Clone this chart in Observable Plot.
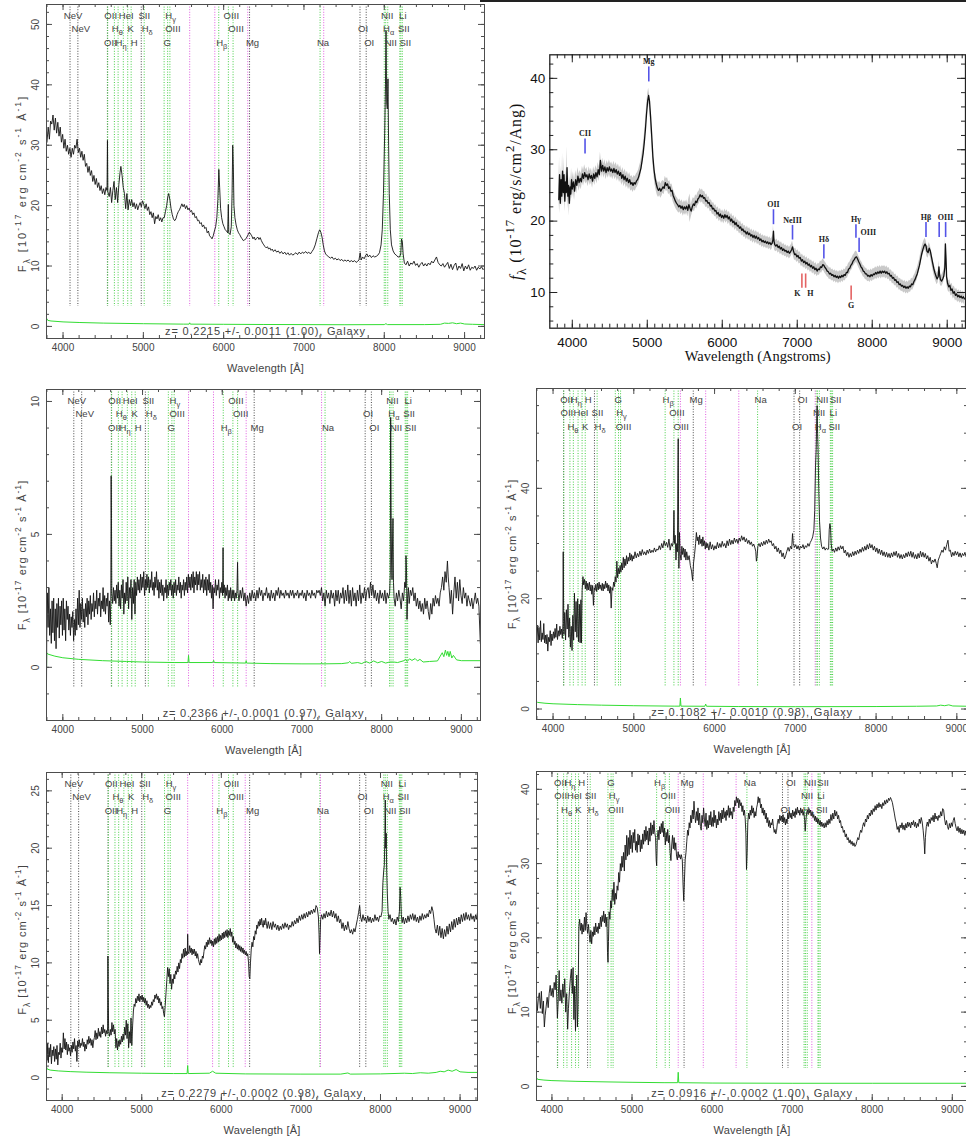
<!DOCTYPE html>
<html><head><meta charset="utf-8">
<script src="https://cdn.jsdelivr.net/npm/d3@7"></script>
<script src="https://cdn.jsdelivr.net/npm/@observablehq/plot@0.6"></script>
<style>
html,body{margin:0;padding:0;background:#fff;overflow:hidden;width:966px;height:1139px;}
#wrap{position:relative;width:966px;height:1139px;overflow:hidden;background:#fff;}
#wrap > svg{position:absolute;margin:0;overflow:visible;}
.topline{position:absolute;left:480px;top:0;width:486px;border-top:2px solid #222;}
</style></head><body><div id="wrap"><div class="topline"></div></div>
<script>
// ---------- line list (rest wavelengths, labels, kind: k=black, g=green, s=sky/magenta) ----------
const lineRest  = [3346,3426,3727,3730,3798,3836,3889,3934,3969,4072,4102,4305,4341,4364,4862,4960,5008,5176,5577,5890,5895,6300,6302,6365,6549,6564,6585,6708,6718,6733,7246];
const lineLabel = ["NeV","NeV","OII","OII","H_{θ}","H_{η}","HeI","K","H","SII","H_{δ}","G","H_{γ}","OIII","H_{β}","OIII","OIII","Mg","","","Na","","OI","OI","NII","H_{α}","NII","Li","SII","SII",""];
const lineKind  = ["k","k","k","g","g","g","g","g","g","k","g","g","g","g","g","g","g","k","s","s","g","s","k","k","g","g","g","g","g","g","s"];
const xMajorTicks = [4000,5000,6000,7000,8000,9000];

// ---------- panel 1 (z=0.2215) ----------
const spec1 = [[3800,30.5],[3815,33],[3830,31],[3845,34],[3860,33.5],[3875,35],[3890,32.5],[3905,34.5],[3920,32],[3935,33.8],[3950,31.5],[3965,33],[3980,30.5],[3995,31.8],[4010,29.5],[4025,31],[4040,29],[4055,30],[4070,28.5],[4085,29.5],[4100,28],[4115,29.5],[4130,28.5],[4145,30],[4160,29.5],[4175,31],[4190,28.8],[4205,29.5],[4220,28],[4235,29],[4250,27.5],[4265,28.5],[4280,26.5],[4295,27],[4310,25.5],[4325,26.5],[4340,25],[4355,25.8],[4370,24],[4385,25],[4400,23.5],[4415,24.5],[4430,23],[4445,23.8],[4460,22.5],[4475,23.3],[4490,22],[4505,22.8],[4520,21.8],[4535,23],[4548,22.5],[4553,30.8],[4558,22.3],[4575,21.5],[4590,23],[4605,20.5],[4620,22.5],[4635,24],[4650,21],[4665,23],[4680,20.5],[4695,23.5],[4710,25.5],[4720,26.5],[4735,25],[4750,23],[4765,22],[4780,19.5],[4795,22],[4810,19.3],[4825,21],[4840,20],[4855,21],[4870,19.8],[4885,20.5],[4900,19.5],[4915,20.3],[4930,19.3],[4945,20],[4960,20.5],[4975,19.8],[4990,20.8],[5005,20.2],[5020,19.5],[5035,20.3],[5050,19.2],[5065,19.8],[5080,18.5],[5095,19],[5110,18],[5125,18.8],[5140,17],[5155,18.2],[5170,17.8],[5185,18.5],[5200,17.5],[5215,18],[5230,17.3],[5245,18],[5260,18],[5275,19],[5290,20],[5305,21.5],[5315,22],[5330,21],[5345,19.5],[5360,18.5],[5375,17.8],[5390,17.5],[5405,17.8],[5420,18.5],[5435,19],[5450,19.3],[5465,19.8],[5480,20.3],[5495,19.8],[5510,20.2],[5525,19.5],[5540,20],[5555,19.3],[5570,19.6],[5585,19],[5600,19.2],[5615,18.5],[5630,18.8],[5645,18],[5660,18.2],[5675,17.5],[5690,17.6],[5705,17],[5720,17.2],[5735,16.5],[5750,16.8],[5765,16.2],[5780,16.4],[5795,15.5],[5810,15.8],[5825,15],[5840,14.8],[5855,14.5],[5870,15],[5885,15.8],[5900,16.5],[5915,18],[5928,21],[5940,26],[5950,23],[5962,19.5],[5975,18],[5990,17],[6005,16.5],[6020,16],[6035,15.8],[6050,15.5],[6058,20.2],[6064,15.5],[6080,15.2],[6095,16.5],[6105,22],[6113,30],[6120,27],[6128,20],[6140,18],[6155,16.8],[6170,16],[6185,15.5],[6200,15.2],[6215,14.8],[6230,14.5],[6245,14.2],[6260,14.3],[6275,14.5],[6290,14.8],[6305,15.2],[6320,15.6],[6335,15.3],[6350,15],[6365,14.5],[6380,14.8],[6395,14.3],[6410,14.6],[6425,14.8],[6440,14.4],[6455,14.7],[6470,14.2],[6485,13.8],[6500,13.5],[6515,13.2],[6530,13],[6545,13.2],[6560,12.8],[6575,13],[6590,12.6],[6605,12.8],[6620,12.4],[6640,12.7],[6660,12.3],[6680,12.5],[6700,12.1],[6720,12.4],[6740,12],[6760,12.3],[6780,11.9],[6800,12.2],[6820,11.8],[6840,12.1],[6860,11.8],[6880,12],[6900,12.2],[6920,11.9],[6940,12.3],[6960,12],[6980,12.3],[7000,12.1],[7020,12.4],[7040,12.1],[7060,12.3],[7080,12],[7100,12.4],[7120,12.8],[7140,13.5],[7160,14.5],[7180,15.5],[7195,16],[7210,15.6],[7225,14.8],[7240,13.5],[7255,12.5],[7270,12],[7290,11.7],[7310,11.5],[7330,11.3],[7350,11.5],[7370,11.1],[7390,11.3],[7410,11],[7430,11.2],[7450,10.9],[7470,11.1],[7490,10.8],[7510,11],[7530,10.8],[7550,11],[7570,10.7],[7590,10.9],[7610,10.7],[7630,10.9],[7650,10.6],[7670,10.8],[7685,11],[7700,12.2],[7712,11],[7730,11.5],[7750,11.2],[7770,11.8],[7785,12],[7800,11.5],[7820,11.8],[7840,11.4],[7860,11.7],[7880,11.5],[7900,11.6],[7920,11.8],[7940,12.2],[7960,13.5],[7975,16],[7990,22],[8005,32],[8015,40],[8022,49],[8030,37],[8038,36],[8046,41],[8054,30],[8062,22],[8075,16],[8090,13.5],[8110,12.5],[8130,12],[8150,11.8],[8170,11.5],[8190,11.5],[8205,12],[8215,14.5],[8225,14],[8235,12],[8250,10.5],[8270,10.2],[8290,10.8],[8310,10],[8330,10.5],[8350,10.3],[8370,10.8],[8390,10.1],[8410,10.4],[8430,9.8],[8450,10.3],[8470,10.6],[8490,10],[8510,10.4],[8530,10],[8550,10.5],[8570,10.2],[8590,10.8],[8610,10.5],[8630,11],[8650,11.5],[8670,10.6],[8690,10.2],[8710,10],[8730,10.4],[8750,9.8],[8770,10.2],[8790,10.6],[8810,9.6],[8830,10.3],[8850,9.4],[8870,10.1],[8890,10.5],[8910,9.3],[8930,10],[8950,9.6],[8970,10.4],[8990,9.2],[9010,10],[9030,9.5],[9050,10.2],[9070,9.3],[9090,9.8],[9110,9.6],[9130,10],[9150,9.3],[9170,9.8],[9190,9.5],[9210,9.9],[9230,9.4],[9245,9.6]];
const err1 = [[3800,1.25],[3810,1.0],[3850,0.9],[3900,0.85],[4000,0.75],[4200,0.65],[4500,0.55],[5000,0.45],[5500,0.38],[5570,0.38],[5577,0.6],[5585,0.38],[6000,0.35],[6500,0.32],[7000,0.3],[7500,0.28],[8000,0.3],[8020,0.45],[8040,0.3],[8500,0.3],[8700,0.35],[8750,0.55],[8800,0.5],[8850,0.6],[8900,0.45],[8950,0.55],[9000,0.4],[9100,0.35],[9245,0.3]];

// ---------- panel 3 (z=0.2366) ----------
const spec3 = [[3795,-0.7],[3798,1.2],[3805,2.8],[3815,1.5],[3825,3.0],[3835,1.2],[3845,2.2],[3855,0.9],[3865,2.5],[3875,1.3],[3885,2.6],[3895,1.0],[3905,2.2],[3915,0.7],[3925,2.4],[3935,1.5],[3945,2.6],[3955,1.1],[3965,2.3],[3975,1.6],[3985,2.5],[3995,1.2],[4005,2.6],[4015,1.4],[4025,2.2],[4035,1.0],[4045,2.5],[4055,1.8],[4065,2.3],[4075,1.4],[4085,2.0],[4095,1.2],[4105,1.9],[4115,1.5],[4125,2.1],[4135,1.0],[4145,1.8],[4155,1.2],[4165,2.2],[4175,1.4],[4185,2.6],[4195,1.6],[4205,2.9],[4215,1.5],[4225,2.4],[4235,1.8],[4245,2.6],[4255,1.7],[4265,2.2],[4275,1.5],[4285,2.4],[4295,1.9],[4305,2.6],[4315,1.6],[4325,2.5],[4335,2.0],[4345,2.7],[4355,1.8],[4365,2.4],[4375,2.1],[4385,2.8],[4395,1.9],[4405,2.5],[4415,2.2],[4425,2.9],[4435,2.0],[4445,2.6],[4455,2.3],[4465,2.8],[4475,1.9],[4485,2.5],[4495,2.2],[4505,3.0],[4515,2.1],[4525,2.7],[4535,2.0],[4545,2.6],[4555,2.3],[4565,2.8],[4575,1.7],[4585,2.5],[4595,1.6],[4602,2.5],[4606,7.2],[4610,5.6],[4614,2.8],[4625,2.4],[4635,3.0],[4645,2.5],[4655,2.9],[4665,2.4],[4675,3.1],[4685,2.6],[4695,3.2],[4705,2.3],[4715,2.9],[4725,2.2],[4735,3.1],[4745,2.6],[4755,3.3],[4765,2.0],[4775,2.8],[4785,2.4],[4795,3.2],[4805,2.5],[4815,3.4],[4825,2.2],[4835,3.0],[4845,2.6],[4855,3.3],[4865,1.8],[4875,3.0],[4885,2.4],[4895,3.3],[4905,2.0],[4915,3.2],[4925,2.7],[4935,3.4],[4945,2.9],[4955,3.3],[4965,2.8],[4975,3.5],[4985,2.9],[4995,3.4],[5005,3.0],[5015,3.6],[5025,2.7],[5035,3.3],[5045,2.9],[5055,3.5],[5065,3.0],[5075,3.4],[5085,2.8],[5095,3.3],[5105,3.0],[5115,3.6],[5125,2.9],[5135,3.2],[5145,2.7],[5155,3.4],[5165,3.0],[5175,3.6],[5185,2.9],[5195,3.3],[5205,2.6],[5215,3.2],[5225,2.8],[5235,3.3],[5245,2.7],[5255,3.1],[5265,2.5],[5275,3.0],[5285,2.8],[5295,3.3],[5305,2.6],[5315,3.1],[5325,2.7],[5335,3.2],[5345,2.9],[5355,3.3],[5365,2.7],[5375,3.1],[5385,2.6],[5395,3.2],[5405,2.8],[5415,3.3],[5425,2.7],[5435,3.1],[5445,2.9],[5455,3.4],[5465,2.8],[5475,3.2],[5485,2.6],[5495,3.1],[5505,2.9],[5515,3.3],[5525,2.7],[5535,3.2],[5545,2.9],[5555,3.4],[5565,2.8],[5575,3.5],[5585,3.0],[5595,3.4],[5605,2.9],[5615,3.5],[5625,3.0],[5635,3.6],[5645,2.8],[5655,3.4],[5665,3.1],[5675,3.6],[5685,2.9],[5695,3.5],[5705,3.1],[5715,3.6],[5725,2.9],[5735,3.3],[5745,3.0],[5755,3.5],[5765,2.8],[5775,3.3],[5785,2.9],[5795,3.4],[5805,2.7],[5815,3.3],[5825,2.9],[5835,3.5],[5845,2.8],[5855,3.2],[5865,2.6],[5875,3.1],[5885,2.2],[5895,3.0],[5905,2.8],[5915,3.3],[5925,2.7],[5935,3.1],[5945,2.9],[5955,3.3],[5965,2.6],[5975,3.0],[5985,2.8],[5995,3.2],[6005,2.7],[6010,4.5],[6015,2.8],[6025,3.1],[6035,2.6],[6045,3.0],[6055,2.7],[6065,3.1],[6075,2.5],[6085,2.9],[6095,2.6],[6105,3.0],[6115,2.5],[6125,2.9],[6135,2.6],[6145,2.9],[6155,2.5],[6165,2.8],[6175,2.6],[6185,2.9],[6192,3.95],[6198,2.8],[6210,2.5],[6225,2.9],[6240,2.6],[6255,3.0],[6270,2.5],[6285,2.8],[6300,2.3],[6315,2.7],[6330,2.4],[6345,2.8],[6360,2.5],[6375,2.9],[6390,2.6],[6405,2.8],[6420,2.5],[6435,2.9],[6450,2.6],[6465,3.0],[6480,2.7],[6495,2.9],[6510,2.5],[6525,2.8],[6540,2.7],[6555,3.0],[6570,2.6],[6585,2.8],[6600,2.5],[6615,2.9],[6630,2.6],[6645,2.8],[6660,2.5],[6675,2.9],[6690,2.7],[6705,3.0],[6720,2.6],[6735,2.9],[6750,2.7],[6765,2.8],[6780,2.6],[6795,2.9],[6810,2.7],[6825,2.8],[6840,2.6],[6855,2.9],[6870,2.7],[6885,2.9],[6900,2.6],[6915,2.8],[6930,2.7],[6945,2.9],[6960,2.6],[6975,2.8],[6990,2.7],[7005,2.9],[7020,2.6],[7035,2.8],[7050,2.5],[7065,2.9],[7080,2.7],[7095,2.8],[7110,2.6],[7125,2.9],[7140,2.7],[7155,2.8],[7170,2.6],[7185,2.9],[7200,2.8],[7215,2.9],[7230,2.7],[7245,3.0],[7260,2.5],[7275,2.8],[7290,2.3],[7305,2.9],[7320,2.6],[7335,2.8],[7350,2.4],[7365,2.9],[7380,2.6],[7395,2.8],[7410,2.3],[7425,2.9],[7440,2.5],[7455,2.9],[7470,2.4],[7485,2.8],[7500,2.6],[7515,3.0],[7530,2.4],[7545,2.9],[7560,2.5],[7575,3.1],[7590,2.4],[7605,2.9],[7620,2.3],[7635,3.0],[7650,2.5],[7665,2.8],[7680,2.3],[7695,2.9],[7710,2.5],[7725,3.1],[7740,2.4],[7755,2.8],[7770,2.6],[7785,3.0],[7800,2.5],[7815,2.9],[7830,3.0],[7845,2.6],[7860,3.2],[7875,2.7],[7890,3.1],[7905,2.6],[7920,2.9],[7935,2.5],[7950,2.8],[7965,2.4],[7980,2.9],[7995,2.6],[8010,2.8],[8025,2.5],[8040,2.9],[8055,2.4],[8070,2.8],[8085,2.6],[8100,2.8],[8108,3.5],[8113,9.4],[8118,6.0],[8124,4.0],[8130,3.3],[8136,4.6],[8142,5.6],[8148,3.2],[8156,2.6],[8170,2.3],[8185,2.8],[8200,2.5],[8215,2.9],[8230,2.6],[8245,2.2],[8260,2.8],[8275,2.5],[8290,3.2],[8300,3.0],[8305,4.2],[8312,3.6],[8318,1.8],[8325,2.6],[8335,3.0],[8345,2.4],[8360,2.9],[8375,2.7],[8390,3.0],[8405,2.5],[8420,2.8],[8435,2.3],[8450,2.6],[8465,2.2],[8480,2.5],[8495,2.1],[8510,2.4],[8525,2.0],[8540,2.6],[8555,2.2],[8570,2.5],[8585,2.1],[8600,1.8],[8615,2.4],[8630,2.0],[8645,2.6],[8660,2.3],[8675,2.7],[8690,2.4],[8705,2.6],[8720,2.3],[8735,2.8],[8750,3.0],[8765,3.4],[8780,2.9],[8795,3.6],[8810,3.2],[8825,4.0],[8835,3.4],[8845,3.0],[8860,2.4],[8875,2.9],[8890,2.0],[8905,2.8],[8920,3.4],[8935,2.6],[8950,3.2],[8965,2.5],[8980,3.3],[8995,2.7],[9010,2.4],[9025,3.0],[9040,2.6],[9055,2.8],[9070,2.3],[9085,2.7],[9100,2.5],[9115,2.3],[9130,2.6],[9145,2.2],[9160,2.5],[9175,2.8],[9190,2.4],[9205,2.6],[9220,2.3],[9238,0.9]];
const err3 = [[3796,0.0],[3798,0.55],[3810,0.5],[3900,0.42],[4000,0.36],[4200,0.3],[4500,0.25],[4800,0.22],[5000,0.2],[5400,0.18],[5570,0.18],[5577,0.45],[5584,0.18],[5880,0.18],[5892,0.26],[5900,0.18],[6295,0.16],[6300,0.25],[6305,0.16],[6600,0.14],[7000,0.13],[7240,0.13],[7246,0.18],[7252,0.13],[7500,0.14],[7580,0.17],[7600,0.22],[7620,0.15],[7700,0.18],[7750,0.14],[7800,0.22],[7850,0.16],[7900,0.24],[7950,0.17],[8000,0.22],[8050,0.16],[8100,0.2],[8150,0.2],[8200,0.18],[8280,0.25],[8300,0.3],[8320,0.22],[8350,0.32],[8380,0.26],[8420,0.33],[8450,0.24],[8480,0.3],[8520,0.2],[8600,0.22],[8700,0.24],[8760,0.55],[8780,0.4],[8800,0.65],[8815,0.45],[8830,0.6],[8845,0.4],[8860,0.6],[8880,0.35],[8900,0.45],[8940,0.28],[9000,0.25],[9238,0.25]];

// ---------- panel 5 (z=0.2279) ----------
const spec5 = [[3803,2.6],[3810,1.5],[3818,3.0],[3826,1.3],[3835,2.6],[3845,1.8],[3855,2.9],[3865,1.2],[3875,2.4],[3885,1.9],[3895,2.7],[3905,1.4],[3915,2.5],[3925,1.6],[3935,2.8],[3945,1.1],[3955,2.2],[3965,2.0],[3975,3.0],[3985,1.7],[3995,2.6],[4005,2.2],[4015,3.9],[4025,2.5],[4035,3.4],[4045,2.4],[4055,3.1],[4065,2.0],[4075,2.9],[4085,2.3],[4095,2.6],[4105,1.9],[4115,2.8],[4125,2.2],[4135,3.1],[4145,2.5],[4155,3.4],[4165,2.3],[4175,2.8],[4185,1.4],[4195,3.2],[4205,2.7],[4215,3.3],[4225,2.6],[4235,3.0],[4245,2.8],[4255,3.4],[4265,2.7],[4275,3.1],[4285,2.3],[4295,2.9],[4305,2.5],[4315,3.3],[4325,2.9],[4335,3.6],[4345,3.0],[4355,3.4],[4365,2.8],[4375,3.3],[4385,2.6],[4395,3.2],[4405,3.5],[4415,4.1],[4425,3.3],[4435,3.9],[4445,3.4],[4455,4.3],[4465,3.6],[4475,4.0],[4485,3.5],[4495,4.4],[4505,3.8],[4515,4.6],[4525,3.9],[4535,4.2],[4545,3.6],[4555,4.1],[4565,3.8],[4571,4.4],[4575,10.6],[4579,7.0],[4584,4.0],[4595,3.6],[4605,4.2],[4615,3.7],[4625,4.8],[4635,4.0],[4645,4.6],[4655,3.8],[4665,4.2],[4675,2.6],[4685,3.4],[4695,2.4],[4705,3.2],[4715,2.7],[4725,3.3],[4735,2.9],[4745,3.6],[4755,3.1],[4765,3.8],[4775,3.3],[4785,4.4],[4795,3.7],[4805,5.0],[4815,3.4],[4825,4.7],[4835,2.6],[4845,4.0],[4855,3.0],[4865,5.2],[4875,2.8],[4885,4.5],[4895,5.8],[4905,6.4],[4915,6.2],[4925,6.9],[4935,6.5],[4945,7.1],[4955,6.7],[4965,7.3],[4975,6.6],[4985,7.1],[4995,6.8],[5005,7.2],[5015,6.6],[5025,7.0],[5035,6.5],[5045,6.9],[5055,6.3],[5065,6.7],[5075,6.1],[5085,6.4],[5095,6.0],[5105,6.3],[5115,6.1],[5125,6.6],[5135,6.3],[5145,6.8],[5155,6.6],[5165,7.2],[5175,6.9],[5185,7.3],[5195,6.8],[5205,7.1],[5215,6.5],[5225,6.9],[5235,6.3],[5245,6.6],[5255,6.0],[5265,6.2],[5275,5.6],[5285,5.3],[5295,6.3],[5305,7.4],[5315,8.5],[5325,9.6],[5335,8.8],[5345,9.5],[5355,8.2],[5365,9.0],[5375,7.7],[5385,8.6],[5395,8.2],[5405,9.0],[5415,8.6],[5425,9.3],[5435,9.0],[5445,9.7],[5455,9.2],[5465,10.0],[5475,9.5],[5485,10.3],[5495,10.0],[5505,10.8],[5515,10.4],[5525,11.2],[5535,10.5],[5545,11.3],[5555,10.6],[5565,11.0],[5572,10.7],[5577,12.5],[5582,11.0],[5592,10.8],[5602,11.5],[5612,10.9],[5622,11.3],[5632,10.7],[5642,11.2],[5652,10.8],[5662,11.2],[5672,10.6],[5682,11.0],[5692,10.4],[5702,10.8],[5712,10.3],[5722,10.0],[5732,9.8],[5742,10.3],[5752,10.0],[5762,10.6],[5772,10.4],[5782,11.0],[5792,11.5],[5802,11.2],[5812,11.8],[5822,11.4],[5832,12.0],[5842,11.6],[5852,12.2],[5862,11.7],[5872,12.0],[5882,11.5],[5892,11.9],[5902,11.4],[5912,12.1],[5922,11.6],[5932,12.2],[5942,11.7],[5952,12.3],[5962,11.8],[5972,12.5],[5982,11.9],[5992,12.4],[6002,12.0],[6012,12.6],[6022,12.1],[6032,12.7],[6042,12.2],[6052,12.8],[6062,12.3],[6072,12.9],[6082,12.2],[6092,12.8],[6102,12.4],[6112,13.0],[6122,12.3],[6132,12.7],[6142,11.8],[6152,12.3],[6162,11.6],[6172,11.9],[6182,11.3],[6192,11.7],[6202,11.2],[6212,11.6],[6222,11.1],[6232,11.5],[6242,11.0],[6252,11.4],[6262,10.9],[6272,11.3],[6282,10.8],[6292,11.1],[6302,10.7],[6312,11.0],[6322,10.6],[6332,10.8],[6342,10.0],[6350,8.8],[6358,8.6],[6366,10.0],[6376,11.2],[6386,11.8],[6396,11.4],[6406,12.3],[6416,12.0],[6426,12.8],[6436,12.5],[6446,13.3],[6456,13.0],[6466,13.6],[6476,13.2],[6486,13.8],[6496,13.3],[6506,13.9],[6516,13.4],[6526,13.1],[6536,13.7],[6546,13.3],[6556,13.9],[6566,13.4],[6576,13.0],[6590,13.6],[6605,13.0],[6620,13.5],[6635,12.9],[6650,13.6],[6665,13.1],[6680,13.4],[6695,12.9],[6710,13.3],[6725,12.8],[6740,13.2],[6755,12.9],[6770,13.4],[6785,13.0],[6800,13.5],[6815,13.1],[6830,13.4],[6845,12.9],[6860,13.3],[6875,13.1],[6890,13.6],[6905,13.2],[6920,13.7],[6935,13.4],[6950,13.9],[6965,13.5],[6980,14.1],[6995,13.7],[7010,14.2],[7025,13.8],[7040,14.3],[7055,13.9],[7070,14.4],[7085,14.0],[7100,14.5],[7115,14.2],[7130,14.6],[7145,14.3],[7160,14.7],[7175,14.4],[7190,15.0],[7205,14.8],[7220,14.0],[7228,12.5],[7234,10.8],[7240,12.0],[7248,13.8],[7260,14.2],[7275,13.8],[7290,14.3],[7305,13.9],[7320,14.5],[7335,14.0],[7350,14.4],[7365,14.1],[7380,14.6],[7395,14.0],[7410,14.5],[7425,13.9],[7440,14.3],[7455,13.6],[7470,14.1],[7485,13.5],[7500,13.8],[7515,13.0],[7530,13.5],[7545,12.8],[7560,13.3],[7575,12.9],[7590,13.6],[7605,13.0],[7620,12.6],[7635,12.9],[7650,12.5],[7665,13.0],[7680,12.7],[7695,13.3],[7710,13.8],[7725,14.4],[7738,15.0],[7750,14.0],[7765,13.6],[7780,14.2],[7795,13.7],[7810,14.0],[7825,13.5],[7840,14.1],[7855,13.6],[7870,14.0],[7885,13.5],[7900,13.9],[7915,13.6],[7930,14.2],[7945,13.7],[7960,14.0],[7975,13.6],[7990,14.1],[8005,14.0],[8020,14.5],[8030,17.0],[8040,18.0],[8048,18.5],[8055,21],[8060,24.2],[8066,20],[8072,21.3],[8078,18],[8086,16],[8095,14.5],[8105,13.8],[8120,14.2],[8135,13.6],[8150,13.9],[8165,13.4],[8180,13.8],[8195,13.3],[8210,14.0],[8225,13.6],[8238,14.5],[8246,16.6],[8254,15.8],[8262,14.2],[8272,13.5],[8285,14.0],[8300,13.4],[8315,13.9],[8330,13.5],[8345,14.1],[8360,13.6],[8375,14.2],[8390,13.8],[8405,14.3],[8420,13.7],[8435,14.2],[8450,13.6],[8465,14.0],[8480,13.5],[8495,14.1],[8510,13.7],[8525,14.3],[8540,13.8],[8555,14.2],[8570,13.9],[8585,14.3],[8600,14.0],[8615,14.6],[8630,14.3],[8645,14.9],[8660,14.5],[8672,13.8],[8685,13.0],[8700,12.6],[8715,13.3],[8730,12.4],[8745,13.2],[8760,12.2],[8775,13.0],[8790,12.1],[8805,12.9],[8820,12.3],[8835,13.2],[8850,12.5],[8865,13.4],[8880,12.7],[8895,13.6],[8910,12.9],[8925,13.8],[8940,13.1],[8955,13.9],[8970,13.3],[8985,14.0],[9000,13.4],[9015,14.2],[9030,13.6],[9045,14.3],[9060,13.7],[9075,14.4],[9090,13.8],[9105,14.2],[9120,13.7],[9135,14.3],[9150,13.8],[9165,14.1],[9180,13.6],[9195,14.2],[9205,13.8],[9219,14.4]];
const err5 = [[3803,0.95],[3810,0.75],[3850,0.65],[3950,0.58],[4100,0.52],[4300,0.47],[4600,0.42],[5000,0.38],[5400,0.35],[5570,0.35],[5577,1.05],[5584,0.35],[5850,0.38],[5890,0.55],[5930,0.38],[6300,0.32],[7000,0.3],[7500,0.3],[7590,0.4],[7620,0.3],[8000,0.32],[8300,0.38],[8400,0.35],[8500,0.42],[8600,0.38],[8700,0.45],[8750,0.55],[8800,0.5],[8850,0.65],[8900,0.55],[8950,0.7],[9000,0.5],[9100,0.45],[9219,0.45]];

// ---------- panel 4 (z=0.1082) ----------
const spec4 = [[3795,13.2],[3805,15.2],[3815,12.0],[3825,14.8],[3835,12.5],[3845,16.0],[3855,12.2],[3865,13.8],[3875,12.6],[3885,15.5],[3895,12.0],[3905,13.4],[3915,11.8],[3925,13.5],[3935,10.5],[3945,13.0],[3955,12.2],[3965,14.2],[3975,11.5],[3985,13.6],[3995,12.4],[4005,14.0],[4015,12.8],[4025,14.6],[4035,13.0],[4045,15.4],[4055,12.6],[4065,14.2],[4075,13.2],[4085,15.0],[4095,13.5],[4105,14.5],[4115,12.8],[4122,15.5],[4126,28.5],[4130,20],[4135,13.5],[4145,17.5],[4155,12.5],[4165,18.0],[4175,14.5],[4185,19.0],[4195,13.0],[4205,16.5],[4215,11.2],[4225,15.0],[4235,10.6],[4245,17.0],[4255,12.5],[4265,21.0],[4275,14.0],[4285,19.5],[4295,13.0],[4305,20.0],[4315,12.2],[4325,19.0],[4335,12.0],[4345,19.8],[4352,12.0],[4360,21.5],[4370,24.0],[4380,22.5],[4390,23.5],[4400,21.8],[4410,23.2],[4420,21.5],[4430,22.8],[4440,21.6],[4450,23.0],[4460,21.4],[4470,22.5],[4480,20.8],[4490,22.4],[4500,18.8],[4510,22.0],[4520,21.5],[4530,22.6],[4540,21.3],[4550,22.8],[4560,21.6],[4570,23.0],[4580,21.8],[4590,22.5],[4600,21.5],[4610,22.8],[4620,21.4],[4630,22.6],[4640,21.8],[4650,23.2],[4660,22.0],[4670,22.8],[4680,21.4],[4690,22.5],[4700,21.0],[4710,22.2],[4720,18.3],[4730,22.0],[4740,21.5],[4750,23.0],[4760,22.2],[4770,24.0],[4780,23.0],[4790,26.8],[4800,23.8],[4810,25.5],[4820,24.5],[4830,26.0],[4840,24.8],[4850,26.5],[4860,25.2],[4870,27.5],[4880,25.6],[4890,27.2],[4900,26.0],[4910,27.8],[4920,26.3],[4930,27.5],[4940,26.8],[4950,28.3],[4960,27.0],[4970,28.0],[4980,26.8],[4990,27.8],[5000,27.2],[5015,28.5],[5030,27.4],[5045,28.2],[5060,27.6],[5075,28.6],[5090,27.8],[5105,28.9],[5120,28.0],[5135,28.5],[5150,27.9],[5165,28.8],[5180,28.2],[5195,29.0],[5210,28.3],[5225,28.8],[5240,28.4],[5255,29.2],[5270,28.5],[5285,29.0],[5300,28.8],[5315,29.6],[5330,28.9],[5345,30.0],[5360,29.2],[5375,30.5],[5390,29.6],[5405,30.2],[5420,29.3],[5435,30.8],[5450,28.8],[5465,30.0],[5478,29.5],[5490,30.5],[5497,36.0],[5503,30.0],[5512,31.5],[5522,27.0],[5532,30.0],[5540,28.5],[5546,43],[5550,49],[5554,35],[5558,25.5],[5565,32.0],[5575,28],[5585,27.0],[5595,29.5],[5605,28.0],[5615,29.2],[5625,27.5],[5635,29.0],[5645,27.0],[5655,28.5],[5670,27.0],[5685,27.8],[5700,26.0],[5715,25.0],[5728,23.3],[5740,26.5],[5752,28.0],[5765,30.0],[5775,32.0],[5785,30.5],[5795,31.2],[5805,29.8],[5815,31.5],[5825,30.0],[5835,30.8],[5845,29.5],[5855,31.2],[5865,29.6],[5875,30.5],[5885,29.0],[5895,30.2],[5905,29.2],[5915,30.0],[5930,28.8],[5945,30.3],[5960,29.0],[5975,29.8],[5990,28.8],[6005,29.6],[6020,29.0],[6035,30.2],[6050,29.2],[6065,30.0],[6080,29.3],[6095,30.4],[6110,29.5],[6125,30.0],[6140,29.2],[6155,30.5],[6170,29.6],[6185,30.8],[6200,29.8],[6215,30.6],[6230,29.9],[6245,31.0],[6260,30.2],[6275,30.8],[6290,30.0],[6305,31.0],[6320,30.4],[6335,31.4],[6350,30.6],[6365,31.2],[6380,30.3],[6395,30.9],[6410,30.0],[6425,30.6],[6440,29.8],[6455,30.3],[6470,29.5],[6485,29.9],[6500,29.2],[6510,28.6],[6518,26.8],[6526,27.5],[6536,29.5],[6550,30.0],[6565,29.4],[6580,30.2],[6595,29.6],[6610,30.4],[6625,29.8],[6640,30.6],[6655,30.0],[6670,30.8],[6685,30.2],[6700,30.5],[6715,29.6],[6730,30.0],[6745,29.0],[6760,29.5],[6775,28.5],[6790,29.2],[6805,28.2],[6820,28.8],[6835,27.6],[6850,28.3],[6865,27.2],[6880,27.8],[6895,28.6],[6910,29.3],[6925,28.6],[6940,29.5],[6955,29.0],[6965,31.8],[6975,30.0],[6990,29.3],[7005,29.8],[7020,29.0],[7035,29.6],[7050,28.8],[7065,29.5],[7080,29.2],[7095,29.8],[7110,29.0],[7125,29.6],[7140,29.3],[7155,30.0],[7170,29.5],[7185,30.2],[7200,30.6],[7215,31.2],[7230,32.5],[7240,36],[7250,44],[7258,47],[7264,52],[7270,55],[7276,50],[7282,47],[7290,40],[7300,34],[7312,31],[7325,29.5],[7340,29.0],[7355,29.4],[7370,28.8],[7385,29.2],[7400,28.9],[7412,29.0],[7420,32.5],[7428,33.6],[7436,33.0],[7444,30.0],[7455,28.6],[7470,29.0],[7485,28.4],[7500,29.2],[7515,28.6],[7530,29.4],[7545,28.8],[7560,29.6],[7575,29.0],[7590,29.5],[7605,28.3],[7620,28.8],[7635,27.8],[7650,28.4],[7665,27.5],[7680,28.2],[7695,27.6],[7710,28.5],[7725,27.8],[7740,28.6],[7755,28.0],[7770,28.8],[7785,28.2],[7800,29.0],[7815,28.4],[7830,29.3],[7845,28.6],[7860,29.5],[7875,28.8],[7890,29.8],[7905,29.0],[7920,30.0],[7935,29.2],[7950,29.8],[7965,28.8],[7980,29.5],[7995,28.5],[8010,29.2],[8025,28.2],[8040,29.0],[8055,28.0],[8070,28.8],[8085,27.8],[8100,28.5],[8115,27.6],[8130,28.4],[8145,27.5],[8160,28.2],[8175,27.4],[8190,28.3],[8205,27.6],[8220,28.5],[8235,27.8],[8250,28.6],[8265,27.5],[8280,28.2],[8295,27.3],[8310,28.0],[8325,27.2],[8340,28.0],[8355,27.4],[8370,28.3],[8385,27.6],[8400,28.5],[8415,27.7],[8430,28.6],[8445,27.5],[8460,28.4],[8475,27.3],[8490,28.0],[8505,27.2],[8520,28.2],[8535,27.4],[8550,28.6],[8565,27.6],[8580,28.4],[8595,27.5],[8610,28.2],[8625,27.2],[8640,27.8],[8655,26.8],[8670,27.5],[8685,26.3],[8700,27.0],[8715,26.6],[8730,27.2],[8745,26.4],[8757,25.6],[8770,27.0],[8785,27.6],[8800,28.2],[8815,28.8],[8830,28.4],[8845,29.4],[8860,28.8],[8875,29.8],[8890,30.6],[8905,28.6],[8920,28.8],[8935,27.6],[8950,28.4],[8965,27.8],[8980,28.6],[8995,27.9],[9010,28.5],[9025,27.6],[9040,28.3],[9055,27.5],[9070,28.2],[9085,27.8],[9100,28.4],[9115,27.6],[9132,28.0]];
const err4 = [[3795,1.3],[3810,1.2],[3900,1.05],[4000,0.95],[4300,0.8],[4600,0.7],[5000,0.6],[5500,0.52],[5570,0.52],[5577,2.0],[5584,0.52],[5880,0.5],[5890,0.9],[5900,0.5],[6300,0.45],[7000,0.42],[8000,0.45],[8500,0.5],[8750,0.55],[8800,0.7],[8850,0.6],[8900,0.75],[8950,0.55],[9132,0.5]];

// ---------- panel 6 (z=0.0916) ----------
const spec6 = [[3807,12.0],[3818,10.2],[3830,11.8],[3842,12.6],[3855,10.5],[3868,12.8],[3880,9.8],[3893,11.5],[3905,8.0],[3915,9.5],[3928,10.8],[3940,12.0],[3953,10.6],[3965,12.5],[3978,13.6],[3990,12.2],[4003,13.2],[4015,12.0],[4028,14.0],[4040,13.0],[4052,15.0],[4060,12.0],[4068,9.2],[4078,11.5],[4090,15.6],[4100,11.5],[4112,13.0],[4124,11.2],[4136,13.8],[4148,12.0],[4160,14.5],[4172,10.0],[4184,12.5],[4196,7.7],[4206,10.5],[4218,12.8],[4230,14.5],[4242,15.8],[4254,12.5],[4264,16.0],[4274,9.0],[4284,13.5],[4294,7.5],[4302,12.0],[4310,15.0],[4318,8.0],[4326,11.0],[4336,21.5],[4346,22.5],[4356,21.0],[4366,22.0],[4376,20.5],[4386,21.8],[4396,20.8],[4406,22.8],[4416,21.0],[4426,23.4],[4436,21.5],[4446,20.6],[4456,21.8],[4466,20.5],[4476,19.4],[4486,21.0],[4496,19.2],[4506,20.8],[4516,20.2],[4526,21.5],[4536,20.4],[4546,22.0],[4556,20.8],[4566,21.5],[4576,20.6],[4586,22.0],[4596,21.2],[4606,22.8],[4616,21.5],[4626,23.0],[4636,22.2],[4646,23.6],[4656,22.0],[4666,23.2],[4676,21.5],[4686,22.8],[4694,18.0],[4700,16.7],[4706,19.5],[4714,23.5],[4724,22.5],[4734,25.0],[4744,24.0],[4754,26.5],[4764,25.0],[4774,27.5],[4784,24.5],[4794,26.0],[4804,25.2],[4814,27.0],[4824,26.4],[4834,28.8],[4844,27.5],[4854,30.0],[4864,29.0],[4874,31.0],[4884,29.5],[4894,31.5],[4904,29.0],[4914,32.5],[4924,30.5],[4934,33.8],[4944,31.0],[4954,33.5],[4964,31.2],[4974,34.5],[4984,32.0],[4994,33.8],[5004,31.5],[5014,34.2],[5024,32.8],[5034,34.6],[5044,31.8],[5054,33.0],[5064,31.5],[5074,34.0],[5084,32.5],[5094,33.8],[5104,31.6],[5114,33.2],[5124,32.0],[5134,34.0],[5144,32.6],[5154,34.5],[5164,33.0],[5174,35.0],[5184,33.2],[5194,34.4],[5204,32.5],[5214,34.8],[5224,33.0],[5234,35.5],[5244,33.8],[5254,35.2],[5264,34.0],[5274,35.8],[5284,34.2],[5294,33.5],[5302,30.5],[5308,29.7],[5316,33.5],[5326,34.5],[5336,33.2],[5346,35.0],[5356,34.0],[5366,35.4],[5376,34.2],[5386,35.7],[5396,33.6],[5406,34.8],[5416,32.5],[5426,34.2],[5436,33.0],[5446,34.6],[5456,32.8],[5466,33.8],[5476,31.5],[5486,30.4],[5496,32.5],[5506,33.8],[5516,32.0],[5526,33.5],[5536,31.8],[5546,32.8],[5556,31.0],[5566,30.5],[5576,31.6],[5586,30.8],[5596,31.2],[5606,30.6],[5616,31.2],[5628,30.5],[5638,27.0],[5646,25.0],[5654,27.5],[5664,30.5],[5674,31.5],[5684,33.0],[5694,34.5],[5704,33.8],[5714,35.5],[5724,34.8],[5734,36.5],[5744,35.5],[5754,37.2],[5764,36.0],[5774,38.4],[5784,36.5],[5794,35.5],[5804,37.0],[5814,35.8],[5824,37.5],[5834,35.2],[5844,36.8],[5854,35.0],[5864,34.5],[5874,36.5],[5884,35.5],[5894,37.5],[5904,36.0],[5914,35.0],[5924,36.8],[5934,34.6],[5944,35.8],[5954,34.8],[5964,36.5],[5974,35.2],[5984,37.0],[5994,35.0],[6004,36.2],[6014,35.0],[6024,37.2],[6034,35.5],[6044,36.5],[6054,34.8],[6064,36.0],[6074,35.2],[6084,37.0],[6094,35.8],[6104,36.8],[6114,35.5],[6124,37.2],[6134,36.0],[6144,37.5],[6154,36.2],[6164,37.0],[6174,35.8],[6184,37.2],[6194,36.5],[6204,37.8],[6214,36.2],[6224,37.5],[6234,36.5],[6244,37.0],[6254,36.0],[6264,37.6],[6274,37.0],[6284,38.5],[6294,37.8],[6304,39.0],[6314,38.2],[6324,38.8],[6334,37.5],[6344,38.6],[6354,37.8],[6364,38.2],[6374,37.0],[6384,37.8],[6394,36.5],[6404,37.2],[6414,36.0],[6422,34.0],[6430,29.2],[6438,31.5],[6446,35.5],[6456,36.8],[6466,36.0],[6476,37.2],[6486,36.5],[6496,37.8],[6506,36.8],[6516,37.5],[6526,36.2],[6536,37.0],[6546,36.4],[6556,37.5],[6566,38.0],[6576,39.0],[6586,38.2],[6596,38.8],[6606,37.5],[6616,38.0],[6626,36.8],[6636,37.5],[6646,36.5],[6656,37.2],[6666,36.0],[6676,36.8],[6686,35.5],[6696,36.2],[6706,35.0],[6716,35.8],[6726,34.8],[6736,35.5],[6746,35.2],[6756,36.0],[6766,35.0],[6776,34.2],[6786,34.6],[6796,34.0],[6806,34.5],[6816,35.5],[6826,36.0],[6836,35.4],[6846,36.5],[6856,35.8],[6866,36.4],[6876,35.6],[6886,36.6],[6896,35.5],[6906,36.2],[6916,35.2],[6926,36.0],[6936,35.4],[6946,36.8],[6956,36.0],[6966,37.0],[6976,36.2],[6986,36.8],[6996,36.0],[7006,37.2],[7016,36.4],[7026,37.0],[7036,36.2],[7046,37.4],[7056,36.6],[7066,37.6],[7076,36.8],[7086,37.2],[7096,36.5],[7106,37.5],[7116,36.8],[7126,37.3],[7136,36.5],[7146,37.0],[7156,35.8],[7163,34.4],[7170,35.5],[7180,36.8],[7190,37.2],[7200,36.6],[7210,37.4],[7220,36.8],[7230,37.2],[7240,36.4],[7250,37.0],[7260,36.2],[7270,36.6],[7280,35.8],[7290,36.4],[7300,35.6],[7310,36.2],[7320,35.4],[7330,36.0],[7340,35.2],[7350,35.8],[7360,35.0],[7370,35.6],[7380,35.0],[7390,35.4],[7400,34.8],[7412,35.5],[7424,34.9],[7436,35.8],[7448,35.2],[7460,36.0],[7472,35.4],[7484,36.6],[7496,35.8],[7508,36.8],[7520,36.0],[7532,37.2],[7544,36.4],[7556,37.0],[7568,36.0],[7580,36.5],[7592,35.5],[7604,35.8],[7616,34.8],[7628,35.0],[7640,34.2],[7652,34.5],[7664,33.6],[7676,34.0],[7688,33.2],[7700,33.5],[7712,32.8],[7724,33.2],[7736,32.6],[7748,33.0],[7760,32.4],[7772,32.8],[7784,32.3],[7796,32.5],[7808,33.0],[7820,33.5],[7832,33.2],[7844,34.0],[7856,34.5],[7868,34.2],[7880,35.0],[7892,35.5],[7904,35.0],[7916,36.0],[7928,35.6],[7940,36.5],[7952,36.0],[7964,36.8],[7976,36.4],[7988,37.2],[8000,36.6],[8012,37.4],[8024,37.0],[8036,37.8],[8048,37.2],[8060,38.0],[8072,37.5],[8084,38.2],[8096,37.6],[8108,38.0],[8120,37.4],[8132,38.2],[8144,37.8],[8156,38.5],[8168,38.0],[8180,38.6],[8192,38.2],[8204,38.8],[8216,38.5],[8228,38.9],[8240,38.6],[8252,38.2],[8264,37.5],[8276,36.8],[8288,36.0],[8300,35.5],[8312,34.6],[8324,35.0],[8336,34.2],[8348,35.2],[8360,34.8],[8372,35.5],[8384,34.6],[8396,35.2],[8408,34.5],[8420,35.4],[8432,34.8],[8444,35.6],[8456,35.0],[8468,35.5],[8480,34.8],[8492,35.6],[8504,35.2],[8516,35.8],[8528,35.0],[8540,35.6],[8552,34.8],[8564,35.4],[8576,35.0],[8588,36.0],[8600,35.4],[8612,36.2],[8624,35.6],[8636,34.5],[8648,33.0],[8656,31.3],[8664,33.5],[8676,35.0],[8688,35.6],[8700,35.0],[8712,36.0],[8724,35.4],[8736,36.2],[8748,35.8],[8760,36.5],[8772,35.6],[8784,36.8],[8796,36.0],[8808,36.4],[8820,35.8],[8832,36.5],[8844,36.2],[8856,37.0],[8868,36.4],[8880,37.4],[8892,37.2],[8904,36.0],[8916,35.2],[8928,35.8],[8940,35.0],[8952,34.6],[8964,35.4],[8976,34.8],[8988,35.5],[9000,35.0],[9012,35.8],[9024,36.2],[9036,35.4],[9048,34.8],[9060,34.4],[9072,35.0],[9084,34.2],[9096,34.8],[9108,34.0],[9120,34.6],[9132,34.0],[9144,34.5],[9156,33.8],[9168,34.4],[9180,34.0],[9192,34.5]];
const err6 = [[3807,1.2],[3820,0.95],[3900,0.85],[4000,0.78],[4300,0.68],[4700,0.6],[5000,0.55],[5400,0.5],[5570,0.5],[5577,1.9],[5584,0.5],[6000,0.45],[7000,0.42],[8000,0.42],[9192,0.42]];

// ---------- panel 2 (quasar, z~0.793): [wavelength, flux, error] ----------
const spec2 = [[3820,23.0,1.5],[3830,26.5,2.5],[3840,22.5,1.5],[3850,25.8,2.0],[3860,23.5,1.5],[3870,27.0,2.5],[3880,24.0,1.8],[3890,26.5,2.5],[3900,22.8,1.5],[3910,25.5,2.0],[3920,24.0,1.5],[3930,27.5,3.0],[3940,23.5,1.8],[3950,25.0,1.5],[3960,22.5,1.8],[3970,24.8,1.5],[3980,23.8,1.5],[3990,25.8,1.6],[4000,24.5,1.4],[4015,25.5,1.4],[4030,24.2,1.3],[4045,25.8,1.3],[4060,25.0,1.2],[4075,26.3,1.2],[4090,25.4,1.2],[4105,26.0,1.1],[4120,25.5,1.1],[4135,26.6,1.1],[4150,26.0,1.1],[4165,26.8,1.1],[4180,26.2,1.0],[4195,26.5,1.0],[4210,25.8,1.0],[4225,26.6,1.0],[4240,26.0,1.0],[4255,26.4,1.0],[4270,25.6,1.0],[4285,26.6,1.0],[4300,26.0,1.0],[4315,26.8,1.0],[4330,26.2,1.0],[4345,27.2,1.0],[4360,26.5,1.0],[4375,28.5,1.2],[4390,27.0,1.0],[4405,27.8,1.0],[4420,27.0,1.0],[4435,27.6,1.0],[4450,26.8,1.0],[4465,27.5,1.0],[4480,27.0,1.0],[4495,27.6,1.0],[4510,27.0,1.0],[4525,27.3,1.0],[4540,26.8,1.0],[4555,27.4,1.0],[4570,26.8,1.0],[4585,27.2,1.0],[4600,26.6,1.0],[4615,27.0,1.0],[4630,26.4,1.0],[4645,26.8,1.0],[4660,26.0,1.0],[4675,26.5,1.0],[4690,25.8,1.0],[4705,26.3,1.0],[4720,25.6,1.0],[4735,26.0,1.0],[4750,25.4,1.0],[4765,25.8,1.0],[4780,25.2,1.0],[4795,25.4,1.0],[4810,25.0,1.0],[4825,25.4,1.0],[4840,25.2,1.0],[4855,25.6,1.0],[4870,25.8,1.0],[4885,26.2,1.0],[4900,26.8,1.0],[4915,27.4,1.0],[4930,28.4,1.0],[4945,29.5,1.0],[4960,31.0,1.0],[4975,32.8,1.0],[4990,35.0,1.0],[5005,36.8,1.0],[5018,37.6,1.0],[5030,36.8,1.0],[5045,34.5,1.0],[5060,31.8,1.0],[5075,29.0,1.0],[5090,27.2,1.0],[5105,26.0,1.0],[5120,25.2,1.0],[5135,24.6,1.0],[5150,24.3,1.0],[5165,24.6,1.0],[5180,24.2,1.0],[5195,24.5,1.0],[5210,24.8,0.9],[5225,24.6,0.9],[5240,25.4,0.9],[5255,25.0,0.9],[5270,25.2,0.9],[5285,24.6,0.9],[5300,24.8,0.9],[5315,24.2,0.9],[5330,24.3,0.9],[5345,23.6,0.9],[5360,23.2,0.9],[5375,22.8,0.9],[5390,22.5,0.9],[5405,22.3,0.9],[5420,22.0,0.9],[5435,22.2,0.9],[5450,21.8,0.9],[5465,22.1,0.9],[5480,21.6,0.9],[5495,22.0,0.9],[5510,21.7,0.9],[5525,22.1,0.9],[5540,21.5,0.9],[5555,22.3,0.9],[5570,21.8,2.0],[5585,21.4,0.9],[5600,22.0,0.9],[5615,22.4,0.9],[5630,22.2,0.9],[5645,22.8,0.9],[5660,22.6,0.9],[5675,23.1,0.9],[5690,23.3,0.9],[5705,23.7,0.9],[5720,23.4,0.9],[5735,23.6,0.9],[5750,23.2,0.9],[5765,23.3,0.9],[5780,22.8,0.9],[5795,22.9,0.9],[5810,22.5,0.8],[5825,22.6,0.8],[5840,22.1,0.8],[5855,22.2,0.8],[5870,21.7,0.8],[5885,21.8,0.8],[5900,21.4,0.8],[5915,21.5,0.8],[5930,21.0,0.8],[5945,21.2,0.8],[5960,20.7,0.8],[5975,21.0,0.8],[5990,20.5,0.8],[6005,20.8,0.8],[6020,20.4,0.8],[6035,20.9,0.8],[6050,20.5,0.8],[6065,20.8,0.8],[6080,20.3,0.8],[6095,20.6,0.8],[6110,20.0,0.8],[6125,20.3,0.8],[6140,19.8,0.8],[6155,20.0,0.8],[6170,19.5,0.8],[6185,19.8,0.8],[6200,19.3,0.8],[6215,19.4,0.8],[6230,19.0,0.8],[6245,19.2,0.8],[6260,18.7,0.8],[6275,18.9,0.8],[6290,18.5,0.8],[6305,18.6,0.8],[6320,18.2,0.8],[6335,18.5,0.8],[6350,18.1,0.8],[6365,18.3,0.8],[6380,17.9,0.8],[6395,18.1,0.8],[6410,17.7,0.8],[6425,18.0,0.8],[6440,17.6,0.8],[6455,17.9,0.8],[6470,17.5,0.8],[6485,17.7,0.8],[6500,17.3,0.8],[6515,17.5,0.8],[6530,17.1,0.8],[6545,17.3,0.8],[6560,17.0,0.8],[6575,17.2,0.8],[6590,16.9,0.8],[6605,17.1,0.8],[6620,16.8,0.8],[6635,17.0,0.8],[6650,16.7,0.8],[6665,16.9,0.8],[6676,17.4,0.8],[6683,18.6,0.9],[6690,17.2,0.8],[6700,16.7,0.8],[6715,16.5,0.8],[6730,16.7,0.8],[6745,16.3,0.8],[6760,16.5,0.8],[6775,16.1,0.8],[6790,16.3,0.8],[6805,15.9,0.8],[6820,16.1,0.8],[6835,15.8,0.8],[6850,15.9,0.8],[6865,15.6,0.8],[6880,15.8,0.8],[6895,15.5,0.8],[6910,15.7,0.8],[6925,16.0,0.8],[6937,16.4,0.8],[6950,15.8,0.8],[6965,15.3,0.8],[6980,15.4,0.8],[6995,15.0,0.8],[7010,15.2,0.8],[7025,14.8,0.8],[7040,14.9,0.8],[7055,14.4,0.8],[7070,14.6,0.8],[7085,14.2,0.8],[7100,14.4,0.8],[7115,14.0,0.8],[7130,14.2,0.8],[7145,13.8,0.8],[7160,14.0,0.8],[7175,13.6,0.8],[7190,13.8,0.8],[7205,13.4,0.8],[7220,13.6,0.8],[7235,13.2,0.8],[7250,13.4,0.8],[7265,13.0,0.8],[7280,13.3,0.8],[7295,13.2,0.8],[7310,13.6,0.8],[7325,13.5,0.8],[7340,13.9,0.8],[7355,13.8,0.8],[7370,13.5,0.8],[7385,13.3,0.8],[7400,13.0,0.8],[7415,12.9,0.8],[7430,12.6,0.8],[7445,12.7,0.8],[7460,12.4,0.8],[7475,12.5,0.8],[7490,12.2,0.8],[7505,12.4,0.8],[7520,12.1,0.8],[7535,12.3,0.8],[7550,12.0,0.8],[7565,12.3,0.8],[7580,12.1,0.8],[7595,12.4,0.8],[7610,12.2,0.8],[7625,12.5,0.8],[7640,12.4,0.8],[7655,12.8,0.8],[7670,12.8,0.8],[7685,13.3,0.8],[7700,13.4,0.8],[7715,13.8,0.8],[7730,14.0,0.8],[7745,14.4,0.8],[7760,14.6,0.8],[7775,14.9,0.8],[7790,15.0,0.8],[7805,14.7,0.8],[7820,14.3,0.8],[7835,14.0,0.8],[7850,13.6,0.8],[7865,13.4,0.8],[7880,13.0,0.8],[7895,12.9,0.8],[7910,12.6,0.8],[7925,12.6,0.8],[7940,12.3,0.8],[7955,12.4,0.8],[7970,12.2,0.8],[7985,12.5,0.8],[8000,12.3,0.8],[8015,12.6,0.8],[8030,12.5,0.8],[8045,12.8,0.8],[8060,12.6,0.8],[8075,12.9,0.8],[8090,12.7,0.8],[8105,13.0,0.8],[8120,12.7,0.8],[8135,13.0,0.8],[8150,12.8,0.8],[8165,13.0,0.8],[8180,12.7,0.8],[8195,12.9,0.8],[8210,12.6,0.8],[8225,12.7,0.8],[8240,12.3,0.8],[8255,12.4,0.8],[8270,12.0,0.8],[8285,12.1,0.8],[8300,11.7,0.8],[8315,11.8,0.8],[8330,11.4,0.8],[8345,11.5,0.8],[8360,11.1,0.8],[8375,11.2,0.8],[8390,10.9,0.8],[8405,11.0,0.8],[8420,10.7,0.8],[8435,10.9,0.8],[8450,10.6,0.8],[8465,10.8,0.8],[8480,10.6,0.8],[8495,10.9,0.8],[8510,10.8,0.8],[8525,11.2,0.8],[8540,11.1,0.8],[8555,11.5,0.8],[8570,11.8,0.8],[8585,12.2,0.8],[8600,12.6,0.8],[8615,13.2,0.8],[8630,13.8,0.8],[8645,14.6,0.8],[8660,15.4,0.8],[8675,16.0,0.8],[8690,16.5,0.8],[8705,16.8,0.8],[8718,16.5,0.8],[8730,15.8,0.8],[8745,15.6,0.8],[8760,16.2,0.8],[8775,15.8,0.8],[8790,15.0,0.8],[8805,14.2,0.8],[8820,13.4,0.8],[8835,12.8,0.8],[8850,12.3,0.8],[8865,11.9,0.8],[8880,12.2,0.8],[8890,13.6,0.9],[8898,12.5,0.8],[8910,11.8,0.8],[8925,11.6,0.8],[8940,11.9,0.8],[8955,12.3,0.8],[8968,13.5,0.8],[8976,16.8,0.9],[8984,14.8,0.8],[8992,12.2,0.8],[9005,11.3,0.8],[9020,10.8,0.8],[9035,11.0,0.8],[9050,10.3,0.8],[9065,10.5,0.8],[9080,9.9,0.8],[9095,10.1,0.8],[9110,9.6,0.8],[9125,9.8,0.8],[9140,9.4,0.8],[9155,9.6,0.8],[9170,9.3,0.8],[9185,9.5,0.8],[9200,9.2,0.8],[9215,9.4,0.8],[9230,9.1,0.8]];
// panel 2 line markers: name, observed wavelength, marker low / high flux
const p2BlueName = ["CII","Mg","OII","NeIII","Hδ","Hγ","OIII","Hβ","","OIII"];
const p2BlueWave = [4170,5020,6683,6937,7355,7783,7825,8717,8893,8979];
const p2BlueLo   = [29.4,39.5,19.5,17.35,14.7,17.6,15.6,17.7,17.7,17.7];
const p2BlueHi   = [31.5,41.6,21.6,19.4,16.7,19.5,17.6,19.8,19.8,19.8];
const p2BlueSide = ["middle","middle","middle","middle","middle","middle","start","middle","middle","middle"];
const p2RedName = ["K","H","G"];
const p2RedWave = [7062,7112,7719];
const p2RedLo   = [10.6,10.6,8.9];
const p2RedHi   = [12.6,12.6,10.9];
const p2RedSide = ["end","start","middle"];

// ---------- helpers ----------
const SANS = "'Liberation Sans', Arial, sans-serif";
const SERIF = "'Liberation Serif', 'Times New Roman', serif";
const toXY = a => a.map(d => ({x: d[0], y: d[1]}));

function markersFor(z, xmax) {
  const out = []; let n = 0;
  lineRest.forEach((r, i) => {
    const sky = lineKind[i] === "s";
    const obs = sky ? r : r * (1 + z);
    if (obs < 3800 || obs > xmax) return;
    out.push({obs, name: lineLabel[i], kind: lineKind[i], row: n % 3});
    n++;
  });
  return out;
}

function tickRules(xMaj, xMin, yMaj, yMin, fw, fh, lMaj, lMin, stroke, sw) {
  const o = {stroke, strokeWidth: sw};
  return [
    Plot.ruleX(xMin, {x: d => d, insetTop: fh - lMin, ...o}),
    Plot.ruleX(xMin, {x: d => d, insetBottom: fh - lMin, ...o}),
    Plot.ruleX(xMaj, {x: d => d, insetTop: fh - lMaj, ...o}),
    Plot.ruleX(xMaj, {x: d => d, insetBottom: fh - lMaj, ...o}),
    Plot.ruleY(yMin, {y: d => d, insetRight: fw - lMin, ...o}),
    Plot.ruleY(yMin, {y: d => d, insetLeft: fw - lMin, ...o}),
    Plot.ruleY(yMaj, {y: d => d, insetRight: fw - lMaj, ...o}),
    Plot.ruleY(yMaj, {y: d => d, insetLeft: fw - lMaj, ...o})
  ];
}

function richify(svg, supScale) {
  svg.querySelectorAll("text").forEach(t => {
    const s = t.textContent;
    if (!/[_^~]\{/.test(s)) return;
    const fs = parseFloat(getComputedStyle(t).fontSize) || 10;
    while (t.firstChild) t.removeChild(t.firstChild);
    const re = /([_^~])\{([^}]*)\}|([^_^~]+)/g;
    let m, shift = 0;
    while ((m = re.exec(s))) {
      const ts = document.createElementNS("http://www.w3.org/2000/svg", "tspan");
      let target = 0;
      if (m[3] !== undefined) ts.textContent = m[3];
      else if (m[1] === "~") { ts.textContent = m[2]; ts.setAttribute("font-style", "italic"); }
      else {
        ts.textContent = m[2];
        ts.setAttribute("font-size", (fs * supScale) + "px");
        target = m[1] === "_" ? 0.32 * fs : -0.42 * fs;
      }
      const d = target - shift;
      if (d) ts.setAttribute("dy", d.toFixed(2));
      shift = target;
      t.appendChild(ts);
    }
  });
}

const wrap = document.getElementById("wrap");
// spacing: list of [test substring, letter-spacing px]
function place(svg, left, top, spacing, supScale) {
  svg.style.left = left + "px"; svg.style.top = top + "px";
  wrap.appendChild(svg);
  svg.querySelectorAll("text").forEach(t => {
    const s = t.textContent;
    for (const [k, v] of spacing) if (s.includes(k)) { t.setAttribute("letter-spacing", v + "px"); break; }
  });
  richify(svg, supScale);
}

// ---------- SDSS-style panels ----------
const panels = [
  {left:0, top:0, W:490, H:376, L:46, R:484, T:4, B:338, xd:[3794,9248], yd:[-2,53.3], yMaj:[0,10,20,30,40,50], yStep:2, spec:spec1, err:err1, z:0.2215, zText:"z= 0.2215 +/- 0.0011 (1.00), Galaxy", ySp: 2.0, yDy: 12},
  {left:0, top:376, W:490, H:380, L:46, R:480, T:389, B:720, xd:[3795,9240], yd:[-2,10.45], yMaj:[0,5,10], yStep:1, spec:spec3, err:err3, z:0.2366, zText:"z= 0.2366 +/- 0.0001 (0.97), Galaxy", ySp: 1.0, yDy: 0},
  {left:0, top:756, W:490, H:383, L:46, R:477, T:772, B:1100, xd:[3803,9219], yd:[-2,26.6], yMaj:[0,5,10,15,20,25], yStep:1, spec:spec5, err:err5, z:0.2279, zText:"z= 0.2279 +/- 0.0002 (0.98), Galaxy", ySp: 1.0, yDy: 3},
  {left:490, top:376, W:478, H:380, L:536, R:967, T:388, B:719, xd:[3795,9132], yd:[-1.9,58.1], yMaj:[0,20,40], yStep:5, spec:spec4, err:err4, z:0.1082, zText:"z= 0.1082 +/- 0.0010 (0.98), Galaxy", ySp: 1.0, yDy: 0},
  {left:490, top:756, W:478, H:383, L:536, R:967, T:771, B:1100, xd:[3807,9190], yd:[-1.9,42.4], yMaj:[0,10,20,30,40], yStep:2, spec:spec6, err:err6, z:0.0916, zText:"z= 0.0916 +/- 0.0002 (1.00), Galaxy", ySp: 1.0, yDy: 3}
];
const kindColor = {k: "#4a4a4a", g: "#47cf47", s: "#e05ce0"};
const rowDy = [11, 24.5, 38];

panels.forEach(p => {
  const mL = p.L - p.left, mR = p.left + p.W - p.R, mT = p.T - p.top, mB = p.top + p.H - p.B;
  const fw = p.R - p.L, fh = p.B - p.T;
  const marks = markersFor(p.z, p.xd[1]);
  const xMin = d3.range(3800, 9300, 200).filter(v => v > p.xd[0] && v < p.xd[1]);
  const yMin = d3.range(Math.ceil(p.yd[0] / p.yStep) * p.yStep, p.yd[1], p.yStep).filter(v => v > p.yd[0]);
  const xMaj = xMajorTicks.filter(v => v > p.xd[0] && v < p.xd[1]);
  const gray = "#4d4d4d";
  const mid = {lineAnchor: "middle"};
  const svg = Plot.plot({
    width: p.W, height: p.H, marginLeft: mL, marginRight: mR, marginTop: mT, marginBottom: mB,
    x: {domain: p.xd, axis: null}, y: {domain: p.yd, axis: null},
    style: {fontFamily: SANS, fontSize: "10px", color: "#444", background: "transparent", overflow: "visible"},
    marks: [
      ...["k", "g", "s"].map(k => Plot.ruleX(marks.filter(d => d.kind === k), {x: "obs", insetBottom: 32, stroke: kindColor[k], strokeWidth: 1, strokeDasharray: "1,1.6"})),
      Plot.line(toXY(p.err), {x: "x", y: "y", stroke: "#33dd33", strokeWidth: 1, clip: true}),
      Plot.line(toXY(p.spec), {x: "x", y: "y", stroke: "#151515", strokeWidth: 0.9, clip: true}),
      Plot.frame({stroke: gray, strokeWidth: 1}),
      ...tickRules(xMaj, xMin, p.yMaj, yMin, fw, fh, 6, 3, gray, 1),
      ...[0, 1, 2].map(r => Plot.text(marks.filter(d => d.row === r && d.name), {x: "obs", text: "name", frameAnchor: "top", dy: rowDy[r], dx: 3, fontSize: 9.5, ...mid})),
      Plot.text(xMaj, {x: d => d, text: d => String(d), frameAnchor: "bottom", dy: 9.5, fontSize: 10, ...mid}),
      Plot.text(p.yMaj, {y: d => d, text: d => String(d), frameAnchor: "left", dx: -11, rotate: -90, fontSize: 10, textAnchor: "middle", ...mid}),
      Plot.text([p.zText], {text: d => d, frameAnchor: "bottom", dy: -7.5, fontSize: 11, ...mid}),
      Plot.text(["Wavelength [Å]"], {text: d => d, frameAnchor: "bottom", dy: 30, fontSize: 11, ...mid}),
      Plot.text(["F_{λ} [10^{-17} erg cm^{-2} s^{-1} Å^{-1}]"], {text: d => d, frameAnchor: "left", dx: -24, dy: p.yDy, rotate: -90, fontSize: 11, textAnchor: "middle", ...mid})
    ]
  });
  place(svg, p.left, p.top, [["z=", 0.8], ["erg", p.ySp], ["Wavelength", 0.2], ["", 0.05]], 0.78);
});

// ---------- panel 2 (different style) ----------
(function () {
  const left = 490, top = 0, W = 478, H = 376, L = 549.3, R = 965, T = 54.3, B = 327.7;
  const xd = [3700, 9244], yd = [5, 43.3];
  const blue = p2BlueName.map((n, i) => ({name: n, obs: p2BlueWave[i], lo: p2BlueLo[i], hi: p2BlueHi[i], side: p2BlueSide[i]}));
  const red = p2RedName.map((n, i) => ({name: n, obs: p2RedWave[i], lo: p2RedLo[i], hi: p2RedHi[i], side: p2RedSide[i]}));
  const xMin = d3.range(3800, 9300, 100).filter(v => v > xd[0] && v < xd[1]);
  const yMin = d3.range(6, 43, 2);
  const xMaj = xMajorTicks;
  const yMaj = [10, 20, 30, 40];
  const labStyle = {fontFamily: SERIF, fontSize: 8, fontWeight: "bold", fill: "#222"};
  const sideDx = {start: 1.5, end: -1.5, middle: 0};
  const svg = Plot.plot({
    width: W, height: H, marginLeft: L - left, marginRight: left + W - R, marginTop: T - top, marginBottom: top + H - B,
    x: {domain: xd, axis: null}, y: {domain: yd, axis: null},
    style: {fontFamily: SANS, fontSize: "13px", color: "#111", background: "transparent", overflow: "visible"},
    marks: [
      Plot.areaY(spec2, {x: d => d[0], y1: d => d[1] - d[2], y2: d => d[1] + d[2], fill: "#c9c9c9", clip: true}),
      Plot.line(spec2, {x: d => d[0], y: d => d[1], stroke: "#111", strokeWidth: 1.3, clip: true}),
      Plot.frame({stroke: "#222", strokeWidth: 1.3}),
      ...tickRules(xMaj, xMin, yMaj, yMin, R - L, B - T, 8, 4, "#222", 1),
      Plot.ruleX(blue, {x: "obs", y1: "lo", y2: "hi", stroke: "#5454e8", strokeWidth: 1.6}),
      Plot.ruleX(red, {x: "obs", y1: "lo", y2: "hi", stroke: "#e46464", strokeWidth: 1.6}),
      ...["start", "end", "middle"].map(s => Plot.text(blue.filter(d => d.side === s && d.name), {x: "obs", y: d => d.hi + 0.75, text: "name", textAnchor: s, dx: sideDx[s], ...labStyle})),
      ...["start", "end", "middle"].map(s => Plot.text(red.filter(d => d.side === s), {x: "obs", y: d => d.lo - 0.7, text: "name", textAnchor: s, dx: sideDx[s], ...labStyle})),
      Plot.text(xMaj, {x: d => d, text: d => String(d), frameAnchor: "bottom", dy: 14, fontSize: 13.5, lineAnchor: "middle"}),
      Plot.text(yMaj, {y: d => d, text: d => String(d), frameAnchor: "left", dx: -4.5, textAnchor: "end", fontSize: 13.5, lineAnchor: "middle"}),
      Plot.text(["Wavelength (Angstroms)"], {text: d => d, frameAnchor: "bottom", dy: 28.5, fontFamily: SERIF, fontSize: 14.5, lineAnchor: "middle"}),
      Plot.text(["~{f}_{λ} (10^{-17} erg/s/cm^{2}/Ang)"], {text: d => d, frameAnchor: "left", dx: -34, rotate: -90, fontFamily: SERIF, fontSize: 16, textAnchor: "middle", lineAnchor: "middle"})
    ]
  });
  place(svg, left, top, [["erg", 0.9]], 0.8);
})();
</script></body></html>
